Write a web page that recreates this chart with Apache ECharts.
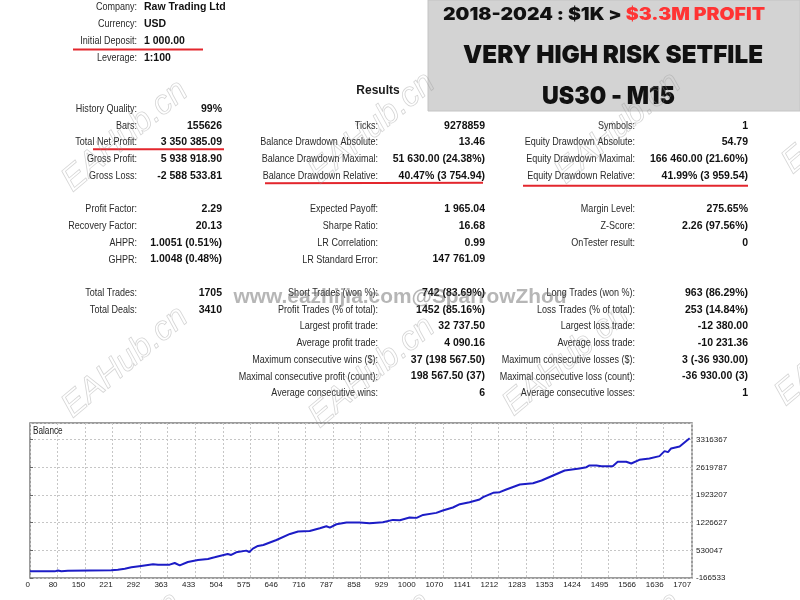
<!DOCTYPE html>
<html><head><meta charset="utf-8">
<script src="https://cdn.jsdelivr.net/npm/echarts@6/dist/echarts.min.js"></script>
<style>html,body{margin:0;padding:0;background:#fff}#c{width:800px;height:600px}</style>
</head><body><div id="c"></div>
<script>
// ---------- DATA ----------
const headerLabels = ['Company:', 'Currency:', 'Initial Deposit:', 'Leverage:'];
const headerValues = ['Raw Trading Ltd', 'USD', '1 000.00', '1:100'];

// [row index, label, value]
const col1Rows = [
  [0, 'History Quality:', '99%'],
  [1, 'Bars:', '155626'],
  [2, 'Total Net Profit:', '3 350 385.09'],
  [3, 'Gross Profit:', '5 938 918.90'],
  [4, 'Gross Loss:', '-2 588 533.81'],
  [6, 'Profit Factor:', '2.29'],
  [7, 'Recovery Factor:', '20.13'],
  [8, 'AHPR:', '1.0051 (0.51%)'],
  [9, 'GHPR:', '1.0048 (0.48%)'],
  [11, 'Total Trades:', '1705'],
  [12, 'Total Deals:', '3410']
];
const col2Rows = [
  [1, 'Ticks:', '9278859'],
  [2, 'Balance Drawdown Absolute:', '13.46'],
  [3, 'Balance Drawdown Maximal:', '51 630.00 (24.38%)'],
  [4, 'Balance Drawdown Relative:', '40.47% (3 754.94)'],
  [6, 'Expected Payoff:', '1 965.04'],
  [7, 'Sharpe Ratio:', '16.68'],
  [8, 'LR Correlation:', '0.99'],
  [9, 'LR Standard Error:', '147 761.09'],
  [11, 'Short Trades (won %):', '742 (83.69%)'],
  [12, 'Profit Trades (% of total):', '1452 (85.16%)'],
  [13, 'Largest profit trade:', '32 737.50'],
  [14, 'Average profit trade:', '4 090.16'],
  [15, 'Maximum consecutive wins ($):', '37 (198 567.50)'],
  [16, 'Maximal consecutive profit (count):', '198 567.50 (37)'],
  [17, 'Average consecutive wins:', '6']
];
const col3Rows = [
  [1, 'Symbols:', '1'],
  [2, 'Equity Drawdown Absolute:', '54.79'],
  [3, 'Equity Drawdown Maximal:', '166 460.00 (21.60%)'],
  [4, 'Equity Drawdown Relative:', '41.99% (3 959.54)'],
  [6, 'Margin Level:', '275.65%'],
  [7, 'Z-Score:', '2.26 (97.56%)'],
  [8, 'OnTester result:', '0'],
  [11, 'Long Trades (won %):', '963 (86.29%)'],
  [12, 'Loss Trades (% of total):', '253 (14.84%)'],
  [13, 'Largest loss trade:', '-12 380.00'],
  [14, 'Average loss trade:', '-10 231.36'],
  [15, 'Maximum consecutive losses ($):', '3 (-36 930.00)'],
  [16, 'Maximal consecutive loss (count):', '-36 930.00 (3)'],
  [17, 'Average consecutive losses:', '1']
];

const bannerLine1a = '2018-2024 : $1K > ';
const bannerLine1b = '$3.3M PROFIT';
const bannerLine2 = 'VERY HIGH RISK SETFILE';
const bannerLine3 = 'US30 - M15';
const resultsTitle = 'Results';
const chartTitle = 'Balance';
const watermarkSite = 'www.eazhijia.com@SparrowZhou';
const watermarkHub = 'EAHub.cn';

const xTickLabels = ['0','80','150','221','292','363','433','504','575','646','716','787','858','929','1000','1070','1141','1212','1283','1353','1424','1495','1566','1636','1707'];
const yTickLabels = ['-166533','530047','1226627','1923207','2619787','3316367'];

const tradeNo = [0,64,72,81,98,210,227,245,262,287,318,331,361,374,387,408,434,460,477,511,520,533,559,567,576,589,603,637,672,693,723,749,766,775,792,818,852,878,912,938,956,981,999,1016,1050,1067,1093,1111,1136,1162,1171,1197,1214,1231,1266,1300,1322,1352,1382,1420,1438,1446,1464,1477,1506,1519,1541,1554,1575,1601,1627,1640,1649,1657,1679,1705];
const balance = [1000,1000,20000,2000,15000,26000,44000,69000,102000,136000,178000,170000,170000,211000,152000,237000,288000,313000,354000,439000,414000,481000,523000,488000,573000,640000,665000,791000,943000,1003000,1018000,1087000,1137000,1104000,1187000,1230000,1230000,1213000,1238000,1297000,1289000,1356000,1348000,1423000,1474000,1533000,1609000,1693000,1743000,1810000,1869000,1978000,1996000,2063000,2189000,2222000,2290000,2416000,2542000,2593000,2625000,2668000,2668000,2651000,2651000,2760000,2760000,2718000,2811000,2845000,2903000,3029000,3004000,3097000,3147000,3351385];

// ---------- AXIS SETTINGS ----------
const X_STEP = 71.2, X_MAX = 1711;
const Y_MIN = -166533, Y_STEP = 696580, Y_MAX = 3737900;

// ---------- FONTS ----------
function hasFont(name){
  const c = document.createElement('canvas').getContext('2d');
  const s = 'abcdefghijklmnopqrstuvwxyzABCDEFGHIJ0123456789';
  c.font = '40px monospace'; const a = c.measureText(s).width;
  c.font = '40px "' + name + '", monospace'; const b = c.measureText(s).width;
  return a !== b;
}
function measure(text, font){
  const c = document.createElement('canvas').getContext('2d');
  c.font = font; return c.measureText(text).width;
}
const HAS_NARROW = hasFont('Liberation Sans Narrow');
const NARROW = HAS_NARROW ? '"Liberation Sans Narrow"' : '"Liberation Sans"';
const LABEL_SCALE = HAS_NARROW ? 1 : 0.82;
const BANNER_FAM = hasFont('Inter') ? 'Inter' : '"Liberation Sans"';

const LABEL_FONT = '11px ' + NARROW;
const VALUE_FONT = 'bold 10.5px "Liberation Sans"';
const LABEL_COLOR = '#2a2a2a';
const VALUE_COLOR = '#111111';
const RED = '#e3262d';

// ---------- GRAPHICS ----------
const g = [];
function txt(x, y, text, font, fill, align, extra){
  const el = {type:'text', x:x, y:y, z:10, silent:true,
    style:{text:text, font:font, fill:fill, align:align, textAlign:align, verticalAlign:'middle', textVerticalAlign:'middle'}};
  return Object.assign(el, extra || {});
}
function label(x, y, text){ return txt(x, y, text, LABEL_FONT, LABEL_COLOR, 'right', {scaleX: LABEL_SCALE}); }
function value(x, y, text, align){ return txt(x, y, text, VALUE_FONT, VALUE_COLOR, align || 'right'); }

// banner box
g.push({type:'rect', z:1, silent:true, shape:{x:428, y:0, width:372, height:111}, style:{fill:'#d3d3d3', stroke:'#c4c4c4', lineWidth:1}});

// header block
headerLabels.forEach((l, i) => {
  const y = 7 + i * 17;
  g.push(label(137, y, l));
  g.push(value(144, y, headerValues[i], 'left'));
});

g.push(txt(378, 91, resultsTitle, 'bold 12px "Liberation Sans"', '#1a1a1a', 'center'));

const ROW0 = 109, ROWSTEP = 16.72;
const cols = [[col1Rows, 137, 222], [col2Rows, 378, 485], [col3Rows, 635, 748]];
cols.forEach(([rows, lx, vx]) => {
  rows.forEach(([r, l, v]) => {
    const y = ROW0 + r * ROWSTEP;
    g.push(label(lx, y, l));
    g.push(value(vx, y, v));
  });
});

// red underlines
[[73,49.5,203,49.5],[93,149.3,224,149.3],[265,183.3,483,182.7],[523,185.7,748,185.7]].forEach(s => {
  g.push({type:'line', z:12, silent:true, shape:{x1:s[0], y1:s[1], x2:s[2], y2:s[3]}, style:{stroke:RED, lineWidth:2}});
});

// banner texts (scaled to the reference widths)
const B1 = '900 17px ' + BANNER_FAM, B2 = '900 25px ' + BANNER_FAM;
const w1 = measure(bannerLine1a + bannerLine1b, B1);
g.push({type:'text', z:5, silent:true, x:604, y:15, scaleX:322 / w1,
  style:{text:'{k|' + bannerLine1a + '}{r|' + bannerLine1b + '}', align:'center', textAlign:'center', verticalAlign:'middle', textVerticalAlign:'middle',
    rich:{k:{font:B1, fill:'#111'}, r:{font:B1, fill:'#ff3434'}}}});
g.push(txt(613, 55, bannerLine2, B2, '#111', 'center', {z:5, scaleX:300 / measure(bannerLine2, B2)}));
g.push(txt(608.5, 96, bannerLine3, B2, '#111', 'center', {z:5, scaleX:133 / measure(bannerLine3, B2)}));

// chart title inside the plot
g.push(txt(33, 431, chartTitle, '10px ' + NARROW, '#222', 'left', {scaleX: LABEL_SCALE}));

// watermarks
const WS = 'bold 20px "Liberation Sans"';
g.push(txt(400, 297, watermarkSite, WS, 'rgba(110,110,110,0.5)', 'center', {z:30, scaleX:333 / measure(watermarkSite, WS)}));
const hubCenters = [[125,136],[372,128],[618,128],[125,362],[372,372],[566,360],[838,350],[118,648],[368,648],[618,648],[845,118]];
hubCenters.forEach(([x, y]) => {
  g.push({type:'text', z:29, silent:true, x:x, y:y, rotation:40 * Math.PI / 180,
    style:{text:watermarkHub, font:'italic 34px "Liberation Sans"', fill:'rgba(255,255,255,0)', stroke:'rgba(150,150,150,0.4)', lineWidth:0.8,
      align:'center', textAlign:'center', verticalAlign:'middle', textVerticalAlign:'middle'}});
});

// ---------- CHART ----------
const chart = echarts.init(document.getElementById('c'), null, {renderer:'canvas', width:800, height:600});
const AXIS_FONT = {fontFamily: HAS_NARROW ? 'Liberation Sans Narrow' : 'Liberation Sans', fontSize: HAS_NARROW ? 9.5 : 8, color:'#1a1a1a'};
const gridLine = {show:true, lineStyle:{color:'#c6c6c6', width:1, type:[2,2]}};
chart.setOption({
  animation:false,
  backgroundColor:'#ffffff',
  grid:{left:30, right:108, top:423, bottom:22, show:true, borderColor:'#7c7c7c', borderWidth:1.5, backgroundColor:'#fff', outerBoundsMode:'none', containLabel:false},
  xAxis:{type:'value', min:0, max:X_MAX, interval:X_STEP,
    axisLine:{show:false}, axisTick:{show:false}, splitLine:gridLine,
    axisLabel:Object.assign({margin:3, align:'right', showMaxLabel:false, showMinLabel:true,
      formatter:function(v){ const k = Math.round(v / X_STEP); return Math.abs(v - k * X_STEP) < 0.01 && xTickLabels[k] !== undefined ? xTickLabels[k] : ''; }}, AXIS_FONT)},
  yAxis:{type:'value', position:'right', min:Y_MIN, max:Y_MAX, interval:Y_STEP,
    axisLine:{show:false}, axisTick:{show:true, length:3, lineStyle:{color:'#666'}}, splitLine:gridLine,
    axisLabel:Object.assign({margin:4, showMaxLabel:false,
      formatter:function(v){ const k = (v - Y_MIN) / Y_STEP; const r = Math.round(k); return Math.abs(k - r) < 1e-6 && yTickLabels[r] !== undefined ? yTickLabels[r] : ''; }}, AXIS_FONT)},
  series:[{type:'line', data:tradeNo.map((t, i) => [t, balance[i]]), showSymbol:false, symbol:'none',
    lineStyle:{color:'#1c1cc6', width:2}, z:3}],
  graphic:{elements:g}
});
</script>
</body></html>
